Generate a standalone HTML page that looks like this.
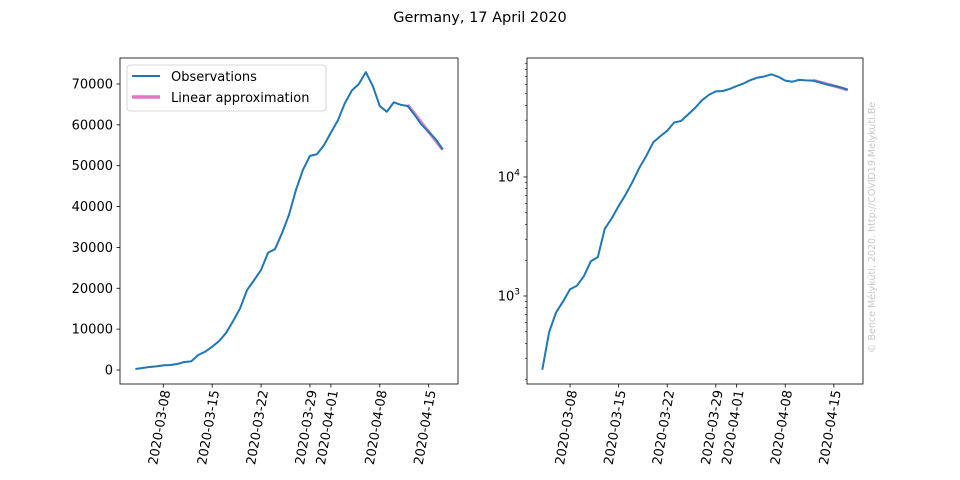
<!DOCTYPE html>
<html><head><meta charset="utf-8"><style>
html,body{margin:0;padding:0;background:#fff;}
svg{display:block;font-family:"DejaVu Sans","Liberation Sans",sans-serif;}
</style></head><body>
<svg id="chart" width="960" height="480" viewBox="0 0 960 480">
<text x="480" y="22" text-anchor="middle" font-size="14.5">Germany, 17 April 2020</text>
<text transform="translate(875,353) rotate(-90)" font-size="9.5" fill="#c8c8c8">© Bence Mélykúti, 2020. http://COVID19.Melykuti.Be</text>
</svg>
<script>
const startDate = "2020-03-04";
const observations = [240,500,730,900,1140,1220,1470,1960,2120,3670,4490,5700,7100,9100,12000,15100,19600,22000,24500,28700,29600,33500,38000,44100,49000,52400,52800,55000,58100,61100,65300,68400,70000,72900,69500,64600,63200,65500,64900,64600,62400,60000,58300,56500,54000];
const fitStartIndex = 39;
const fitStartValue = 64900;
const fitEndValue = 53900;
const dateTicks = ["2020-03-08","2020-03-15","2020-03-22","2020-03-29","2020-04-01","2020-04-08","2020-04-15"];
const linTicks = [0,10000,20000,30000,40000,50000,60000,70000];
const logTicks = [3,4];

const NS="http://www.w3.org/2000/svg";
const svg=document.getElementById('chart');
function mk(tag,attrs,parent){const e=document.createElementNS(NS,tag);for(const k in attrs)e.setAttribute(k,attrs[k]);(parent||svg).appendChild(e);return e;}
const day0=Date.parse(startDate);
function dayIdx(s){return (Date.parse(s)-day0)/86400000;}
const n=observations.length;
const fitVals=[];
for(let i=fitStartIndex;i<n;i++){fitVals.push(fitStartValue+(fitEndValue-fitStartValue)*(i-fitStartIndex)/(n-1-fitStartIndex));}

function panel(L,R,T,B,yf,isLog,name){
  const span=n-1, pad=span*0.05;
  const xf=d=>L+(d+pad)/(span+2*pad)*(R-L);
  const g=mk('g',{});
  
  
  dateTicks.forEach(t=>{
    const x=xf(dayIdx(t));
    const tk=mk('line',{x1:x,x2:x,y1:B,y2:B+3.5,stroke:'#000','stroke-width':0.8},g);
    
    
    const tx=mk('text',{transform:`translate(${x+7},${B+7}) rotate(-80)`,'text-anchor':'end','font-size':13},g);
    
    
    tx.textContent=t;
  });
  if(!isLog){
    linTicks.forEach(v=>{
      const y=yf(v);
      mk('line',{x1:L-3.5,x2:L,y1:y,y2:y,stroke:'#000','stroke-width':0.8},g);
      const tx=mk('text',{x:L-7,y:y+4.5,'text-anchor':'end','font-size':13},g);
      
      
      tx.textContent=v;
    });
  } else {
    for(let e=2;e<=4;e++){for(let m=1;m<10;m++){
      const v=m*Math.pow(10,e);const y=yf(v);
      if(y<T||y>B)continue;
      mk('line',{x1:L-(m===1?3.5:2),x2:L,y1:y,y2:y,stroke:'#000','stroke-width':m===1?0.8:0.6},g);
    }}
    logTicks.forEach(e=>{
      const y=yf(Math.pow(10,e));
      const tx=mk('text',{x:L-7,y:y+4.5,'text-anchor':'end','font-size':13},g);
      
      
      tx.textContent='10';
      const sp=mk('tspan',{dy:-6,'font-size':9},tx);sp.textContent=e;
    });
  }
  const fit=mk('polyline',{points:fitVals.map((v,k)=>xf(fitStartIndex+k)+','+yf(v)).join(' '),fill:'none',stroke:'#e377c2','stroke-width':3.2,'stroke-opacity':0.9},g);
  
  
  const obs=mk('polyline',{points:observations.map((v,i)=>xf(i)+','+yf(v)).join(' '),fill:'none',stroke:'#1f77b4','stroke-width':2,'stroke-linejoin':'round'},g);
  
  
  const fr=mk('rect',{x:L,y:T,width:R-L,height:B-T,fill:'none',stroke:'#000','stroke-width':0.8},g);
  
  
}
const yl=v=>370-(v/10000)*40.86;
panel(120,458,58,384,yl,false,'linear-panel');
const yr=v=>296-(Math.log10(v)-3)*119;
panel(527,863,58,384,yr,true,'log-panel');

const lg=mk('g',{});


mk('rect',{x:127,y:65,width:199,height:46,rx:3,fill:'#fff','fill-opacity':0.8,stroke:'#ccc','stroke-width':0.8},lg);
mk('line',{x1:132,x2:160,y1:76,y2:76,stroke:'#1f77b4','stroke-width':2},lg);
mk('line',{x1:132,x2:160,y1:97,y2:97,stroke:'#e377c2','stroke-width':3.5},lg);
const t1=mk('text',{x:171,y:81,'font-size':13},lg);t1.textContent='Observations';


const t2=mk('text',{x:171,y:102,'font-size':13},lg);t2.textContent='Linear approximation';


</script>
</body></html>
